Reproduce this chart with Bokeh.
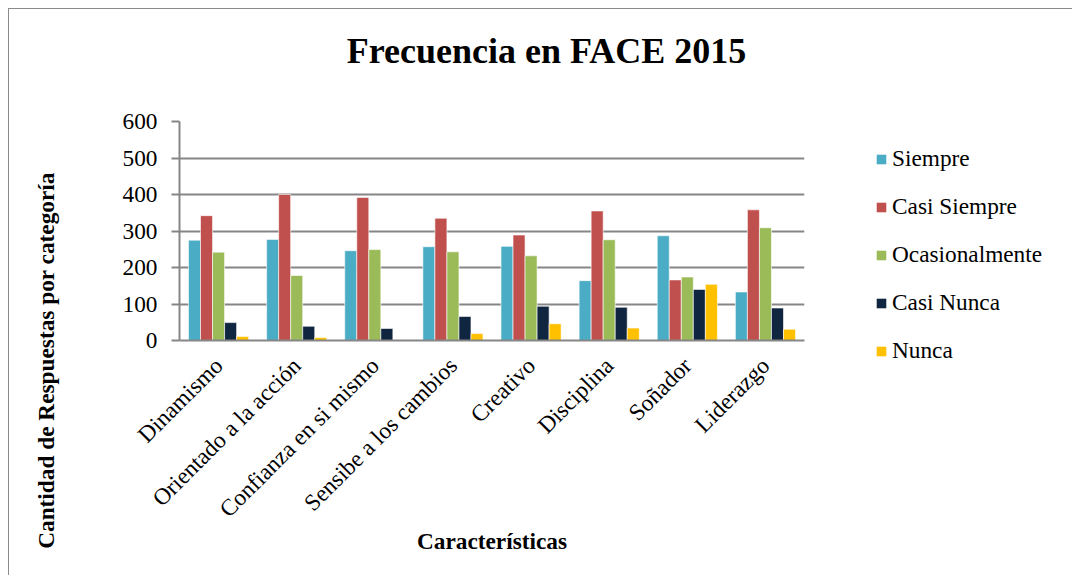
import math
from bokeh.plotting import figure
from bokeh.layouts import column, row
from bokeh.models import Legend, LegendItem, ColumnDataSource, FactorRange, Label, Spacer
from bokeh.transform import dodge
from bokeh.embed import file_html
from bokeh.resources import INLINE

categories = ["Dinamismo", "Orientado a la acción", "Confianza en si mismo",
              "Sensibe a los cambios", "Creativo", "Disciplina", "Soñador", "Liderazgo"]
series = ["Siempre", "Casi Siempre", "Ocasionalmente", "Casi Nunca", "Nunca"]
siempre = [275, 277, 246, 257, 258, 164, 287, 133]
casi_siempre = [342, 400, 392, 335, 289, 355, 166, 358]
ocasionalmente = [242, 178, 249, 243, 232, 276, 174, 309]
casi_nunca = [49, 39, 33, 66, 94, 91, 140, 89]
nunca = [11, 8, 0, 19, 46, 34, 154, 31]
colors = ["#4BACC6", "#C0504D", "#9BBB59", "#10253F", "#FFC000"]
yticks = [0, 100, 200, 300, 400, 500, 600]
title_text = "Frecuencia en FACE 2015"
ylabel_text = "Cantidad de Respuestas por categoría"
xlabel_text = "Características"

FONT = "Liberation Serif"
GRAY = "#868686"
FS = "23.3px"


def blank(width, height):
    # a bare figure whose plotting frame is the whole canvas, so data units are pixels
    f = figure(width=width, height=height, x_range=(0, width), y_range=(0, height),
               output_backend="svg", toolbar_location=None, tools="", title=None,
               x_axis_location=None, y_axis_location=None, min_border=0)
    f.grid.visible = False
    f.outline_line_color = None
    f.border_fill_color = "white"
    f.background_fill_color = "white"
    return f


# ---- title strip ----
tfig = blank(1063, 96)
tfig.add_layout(Label(x=537, y=55, text=title_text,
                      text_font=FONT, text_font_size="36px", text_font_style="bold",
                      text_align="center", text_baseline="alphabetic", text_color="black"))

# ---- y label strip ----
yfig = blank(91, 470)
yfig.add_layout(Label(x=36, y=215, text=ylabel_text,
                      angle=math.pi / 2, text_font=FONT, text_font_size=FS,
                      text_font_style="bold", text_align="center", text_baseline="middle",
                      text_color="black"))

# ---- main chart ----
data = dict(cat=categories, s0=siempre, s1=casi_siempre, s2=ocasionalmente,
            s3=casi_nunca, s4=nunca)
src = ColumnDataSource(data)

p = figure(width=760, height=470, x_range=FactorRange(*categories), y_range=(0, 600),
           output_backend="svg", toolbar_location=None, tools="", title=None)
p.min_border_left = 79
p.min_border_right = 56
p.min_border_top = 16
p.min_border_bottom = 235
p.outline_line_color = None
p.background_fill_color = "white"
p.border_fill_color = "white"

bw = 0.154
for i, name in enumerate(series):
    off = (i - 2) * bw
    p.vbar(x=dodge("cat", off, range=p.x_range), top="s%d" % i, width=bw, source=src,
           fill_color=colors[i], line_color="white", line_alpha=0.6, line_width=1)

p.xgrid.grid_line_color = None
p.ygrid.grid_line_color = GRAY
p.ygrid.grid_line_width = 2
p.ygrid.ticker = yticks

p.yaxis.ticker = yticks
p.yaxis.axis_line_color = GRAY
p.yaxis.axis_line_width = 2
p.yaxis.major_tick_line_color = GRAY
p.yaxis.major_tick_line_width = 2
p.yaxis.major_tick_out = 8
p.yaxis.major_tick_in = 0
p.yaxis.minor_tick_line_color = None
p.yaxis.major_label_text_font = FONT
p.yaxis.major_label_text_font_size = FS
p.yaxis.major_label_text_color = "black"
p.yaxis.major_label_standoff = 14

p.xaxis.axis_line_color = GRAY
p.xaxis.axis_line_width = 2
p.xaxis.major_tick_line_color = None
p.xaxis.minor_tick_line_color = None
p.xaxis.major_label_orientation = math.pi / 4
p.xaxis.major_label_text_font = FONT
p.xaxis.major_label_text_font_size = FS
p.xaxis.major_label_text_color = "black"
p.xaxis.major_label_standoff = 15
p.xaxis.axis_label = xlabel_text
p.xaxis.axis_label_text_font = FONT
p.xaxis.axis_label_text_font_size = FS
p.xaxis.axis_label_text_font_style = "bold"
p.xaxis.axis_label_text_color = "black"
p.xaxis.axis_label_standoff = -6

# ---- legend strip ----
lfig = blank(212, 445)
# legend swatches: one zero-height bar per series, parked outside the visible range
swatch = ColumnDataSource(dict(x=[-1000], top=[0]))
lrs = []
for i, name in enumerate(series):
    lrs.append(lfig.vbar(x="x", top="top", width=1, source=swatch,
                         fill_color=colors[i], line_color=None))
legend = Legend(items=[LegendItem(label=series[i], renderers=[lrs[i]]) for i in range(5)],
                location="top_left", orientation="vertical")
legend.label_text_font = FONT
legend.label_text_font_size = FS
legend.label_text_color = "black"
legend.glyph_width = 12
legend.glyph_height = 12
legend.label_height = 25
legend.spacing = 21
legend.label_standoff = 5
legend.padding = 0
legend.margin = 15
legend.border_line_color = None
legend.background_fill_alpha = 0
lfig.add_layout(legend, "center")

ylabel_col = column(yfig, spacing=0)
legend_col = column(Spacer(width=212, height=25), lfig, spacing=0)
layout = column(tfig, row(ylabel_col, p, legend_col, spacing=0), spacing=0)
layout.styles = {"margin-left": "8px", "margin-top": "8px",
                 "border-top": "1px solid #8a8a8a", "border-left": "1px solid #8a8a8a"}

open("out.html", "w").write(file_html(layout, INLINE))
